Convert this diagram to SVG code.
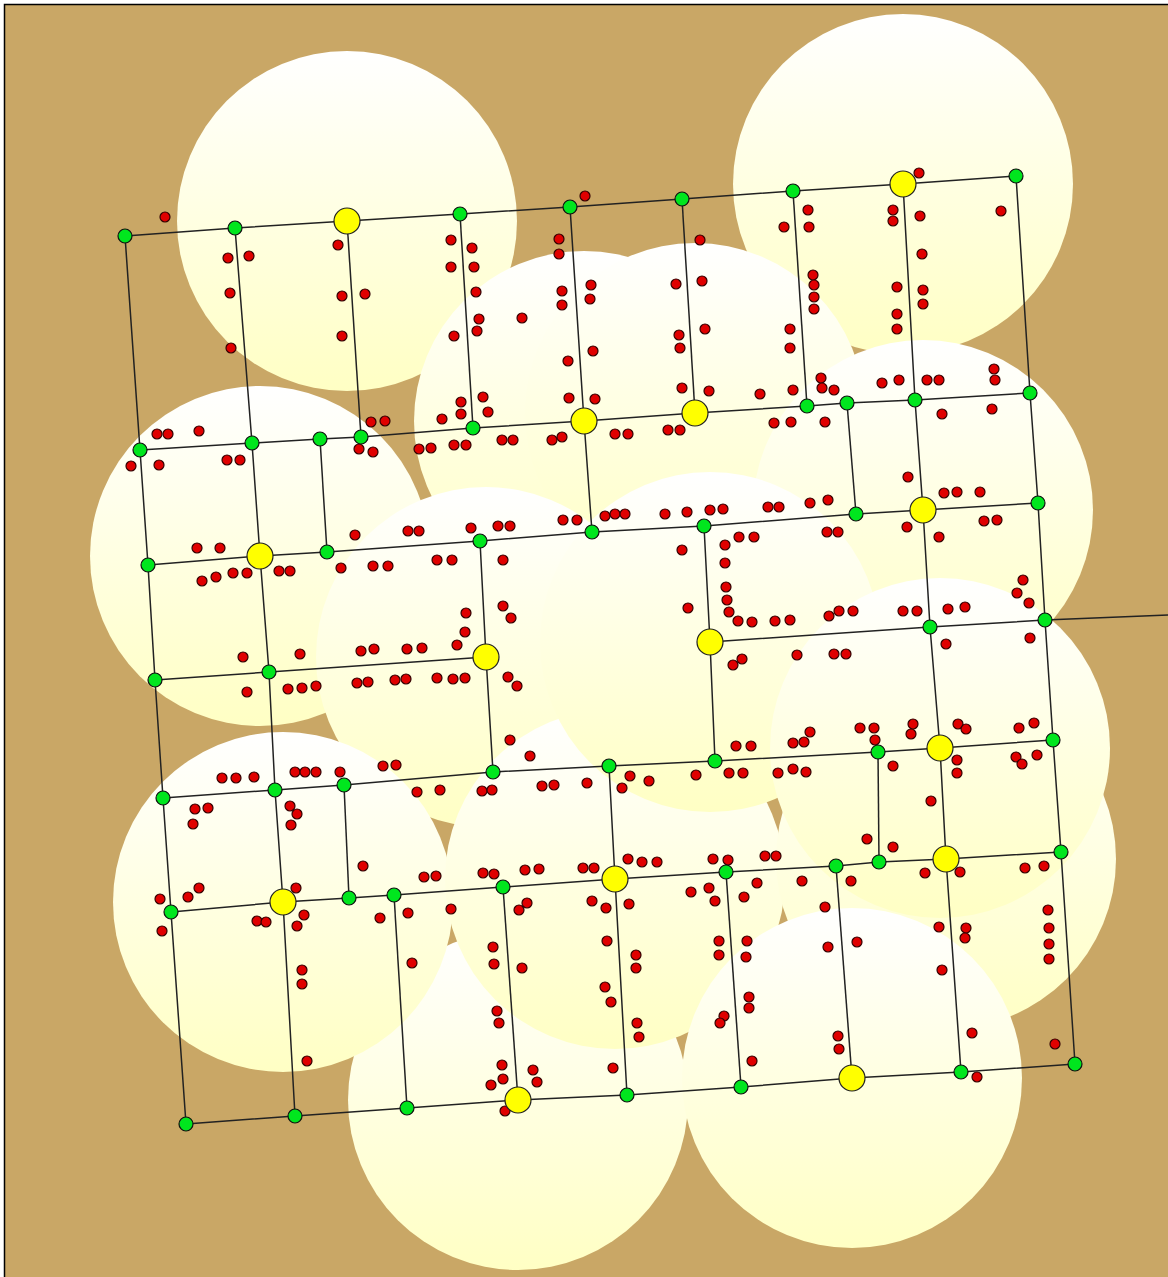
<svg xmlns="http://www.w3.org/2000/svg" width="1168" height="1277" viewBox="0 0 1168 1277">
<style>
.z{fill:url(#zg)}
.c{fill:none;stroke:#222;stroke-width:1.5}
.g{fill:#00e61e;stroke:#111;stroke-width:1.2}
.y{fill:#ffff00;stroke:#222;stroke-width:1.2}
#points circle{fill:#e00000;stroke:#300;stroke-width:1.2;r:5px}
</style>
<defs><linearGradient id="zg" x1="0" y1="0" x2="0" y2="1"><stop offset="0" stop-color="#ffffff"/><stop offset="1" stop-color="#ffffc4"/></linearGradient></defs>
<rect width="1168" height="1277" fill="#ffffff"/>
<rect x="4.5" y="4.5" width="1170" height="1280" fill="#c9a766" stroke="#000" stroke-width="1.5"/>
<g id="zones">
<circle class="z" cx="347" cy="221" r="170"/>
<circle class="z" cx="903" cy="184" r="170"/>
<circle class="z" cx="584" cy="421" r="170"/>
<circle class="z" cx="695" cy="413" r="170"/>
<circle class="z" cx="260" cy="556" r="170"/>
<circle class="z" cx="923" cy="510" r="170"/>
<circle class="z" cx="486" cy="657" r="170"/>
<circle class="z" cx="518" cy="1100" r="170"/>
<circle class="z" cx="283" cy="902" r="170"/>
<circle class="z" cx="615" cy="879" r="170"/>
<circle class="z" cx="710" cy="642" r="170"/>
<circle class="z" cx="946" cy="859" r="170"/>
<circle class="z" cx="940" cy="748" r="170"/>
<circle class="z" cx="852" cy="1078" r="170"/>
</g>
<g id="connectors">
<polyline class="c" points="125,236 235,228 347,221 460,214 570,207 682,199 793,191 903,184 1016,176"/>
<polyline class="c" points="140,450 252,443 320,439 361,437 473,428 584,421 695,413 807,406 847,403 915,400 1030,393"/>
<polyline class="c" points="148,565 260,556 327,552 480,541 592,532 704,526 856,514 923,510 1038,503"/>
<polyline class="c" points="155,680 269,672 486,657"/>
<polyline class="c" points="710,642 930,627 1045,620 1168,615"/>
<polyline class="c" points="163,798 275,790 344,785 493,772 609,766 715,761 878,752 940,748 1053,740"/>
<polyline class="c" points="171,912 283,902 349,898 394,895 503,887 615,879 726,872 836,866 879,862 946,859 1061,852"/>
<polyline class="c" points="186,1124 295,1116 407,1108 518,1100 627,1095 741,1087 852,1078 961,1072 1075,1064"/>
<polyline class="c" points="125,236 140,450 148,565 155,680 163,798 171,912 186,1124"/>
<polyline class="c" points="235,228 252,443 260,556 269,672 275,790 283,902 295,1116"/>
<polyline class="c" points="347,221 361,437"/>
<polyline class="c" points="320,439 327,552"/>
<polyline class="c" points="460,214 473,428"/>
<polyline class="c" points="570,207 584,421 592,532"/>
<polyline class="c" points="682,199 695,413"/>
<polyline class="c" points="793,191 807,406"/>
<polyline class="c" points="847,403 856,514"/>
<polyline class="c" points="903,184 915,400 923,510 930,627 940,748 946,859 961,1072"/>
<polyline class="c" points="1016,176 1030,393 1038,503 1045,620 1053,740 1061,852 1075,1064"/>
<polyline class="c" points="480,541 486,657 493,772"/>
<polyline class="c" points="704,526 710,642 715,761"/>
<polyline class="c" points="878,752 879,862"/>
<polyline class="c" points="344,785 349,898"/>
<polyline class="c" points="394,895 407,1108"/>
<polyline class="c" points="503,887 518,1100"/>
<polyline class="c" points="609,766 615,879 627,1095"/>
<polyline class="c" points="726,872 741,1087"/>
<polyline class="c" points="836,866 852,1078"/>
</g>
<g id="points">
<circle cx="165" cy="217"/><circle cx="585" cy="196"/><circle cx="919" cy="173"/>
<circle cx="228" cy="258"/><circle cx="249" cy="256"/><circle cx="230" cy="293"/><circle cx="231" cy="348"/>
<circle cx="338" cy="245"/><circle cx="342" cy="296"/><circle cx="365" cy="294"/><circle cx="342" cy="336"/>
<circle cx="451" cy="240"/><circle cx="472" cy="248"/><circle cx="451" cy="267"/><circle cx="474" cy="267"/><circle cx="476" cy="292"/><circle cx="479" cy="319"/><circle cx="477" cy="331"/><circle cx="454" cy="336"/><circle cx="522" cy="318"/>
<circle cx="559" cy="239"/><circle cx="559" cy="254"/><circle cx="562" cy="291"/><circle cx="591" cy="285"/><circle cx="562" cy="305"/><circle cx="590" cy="299"/><circle cx="568" cy="361"/><circle cx="593" cy="351"/>
<circle cx="700" cy="240"/><circle cx="676" cy="284"/><circle cx="702" cy="281"/><circle cx="679" cy="335"/><circle cx="705" cy="329"/><circle cx="680" cy="348"/><circle cx="682" cy="388"/><circle cx="709" cy="391"/>
<circle cx="808" cy="210"/><circle cx="809" cy="227"/><circle cx="784" cy="227"/><circle cx="813" cy="275"/><circle cx="814" cy="285"/><circle cx="814" cy="297"/><circle cx="814" cy="309"/><circle cx="790" cy="329"/><circle cx="790" cy="348"/>
<circle cx="893" cy="210"/><circle cx="893" cy="221"/><circle cx="920" cy="216"/><circle cx="1001" cy="211"/><circle cx="922" cy="254"/><circle cx="897" cy="287"/><circle cx="923" cy="290"/><circle cx="923" cy="304"/><circle cx="897" cy="314"/><circle cx="897" cy="329"/>
<circle cx="760" cy="394"/><circle cx="793" cy="390"/><circle cx="821" cy="378"/><circle cx="822" cy="388"/><circle cx="834" cy="390"/><circle cx="882" cy="383"/><circle cx="899" cy="380"/><circle cx="927" cy="380"/><circle cx="939" cy="380"/><circle cx="994" cy="369"/><circle cx="995" cy="380"/><circle cx="992" cy="409"/>
<circle cx="774" cy="423"/><circle cx="791" cy="422"/><circle cx="825" cy="422"/><circle cx="942" cy="414"/>
<circle cx="371" cy="422"/><circle cx="385" cy="421"/><circle cx="483" cy="397"/><circle cx="461" cy="402"/><circle cx="488" cy="412"/><circle cx="461" cy="414"/><circle cx="442" cy="419"/><circle cx="569" cy="398"/><circle cx="595" cy="399"/>
<circle cx="419" cy="449"/><circle cx="431" cy="448"/><circle cx="454" cy="445"/><circle cx="466" cy="445"/><circle cx="502" cy="440"/><circle cx="513" cy="440"/><circle cx="552" cy="440"/><circle cx="562" cy="437"/><circle cx="615" cy="434"/><circle cx="628" cy="434"/><circle cx="668" cy="430"/><circle cx="680" cy="430"/>
<circle cx="157" cy="434"/><circle cx="168" cy="434"/><circle cx="199" cy="431"/><circle cx="359" cy="449"/><circle cx="373" cy="452"/><circle cx="227" cy="460"/><circle cx="240" cy="460"/><circle cx="131" cy="466"/><circle cx="159" cy="465"/>
<circle cx="908" cy="477"/><circle cx="944" cy="493"/><circle cx="957" cy="492"/><circle cx="980" cy="492"/><circle cx="984" cy="521"/><circle cx="997" cy="520"/><circle cx="939" cy="537"/><circle cx="907" cy="527"/>
<circle cx="498" cy="526"/><circle cx="510" cy="526"/><circle cx="471" cy="528"/><circle cx="563" cy="520"/><circle cx="577" cy="520"/><circle cx="605" cy="516"/><circle cx="615" cy="514"/><circle cx="625" cy="514"/><circle cx="665" cy="514"/><circle cx="687" cy="512"/><circle cx="710" cy="510"/><circle cx="723" cy="509"/><circle cx="768" cy="507"/><circle cx="779" cy="507"/><circle cx="810" cy="503"/><circle cx="828" cy="500"/><circle cx="827" cy="532"/><circle cx="838" cy="532"/>
<circle cx="355" cy="535"/><circle cx="408" cy="531"/><circle cx="419" cy="531"/><circle cx="725" cy="545"/><circle cx="739" cy="537"/><circle cx="754" cy="537"/><circle cx="682" cy="550"/><circle cx="725" cy="563"/>
<circle cx="197" cy="548"/><circle cx="220" cy="548"/><circle cx="202" cy="581"/><circle cx="216" cy="577"/><circle cx="233" cy="573"/><circle cx="247" cy="573"/><circle cx="279" cy="571"/><circle cx="290" cy="571"/><circle cx="341" cy="568"/><circle cx="373" cy="566"/><circle cx="388" cy="566"/><circle cx="437" cy="560"/><circle cx="452" cy="560"/><circle cx="503" cy="560"/>
<circle cx="726" cy="587"/><circle cx="727" cy="600"/><circle cx="729" cy="612"/><circle cx="738" cy="621"/><circle cx="752" cy="622"/><circle cx="775" cy="621"/><circle cx="790" cy="620"/><circle cx="829" cy="616"/><circle cx="839" cy="611"/><circle cx="853" cy="611"/><circle cx="903" cy="611"/><circle cx="917" cy="611"/><circle cx="948" cy="609"/><circle cx="965" cy="607"/><circle cx="1023" cy="580"/><circle cx="1017" cy="593"/><circle cx="1029" cy="603"/><circle cx="1030" cy="638"/><circle cx="688" cy="608"/>
<circle cx="503" cy="606"/><circle cx="511" cy="618"/><circle cx="466" cy="613"/><circle cx="465" cy="632"/><circle cx="457" cy="645"/>
<circle cx="243" cy="657"/><circle cx="300" cy="654"/><circle cx="361" cy="651"/><circle cx="374" cy="649"/><circle cx="407" cy="649"/><circle cx="422" cy="648"/><circle cx="946" cy="644"/><circle cx="742" cy="659"/><circle cx="733" cy="665"/><circle cx="797" cy="655"/><circle cx="834" cy="654"/><circle cx="846" cy="654"/>
<circle cx="247" cy="692"/><circle cx="288" cy="689"/><circle cx="302" cy="688"/><circle cx="316" cy="686"/><circle cx="357" cy="683"/><circle cx="368" cy="682"/><circle cx="395" cy="680"/><circle cx="406" cy="679"/><circle cx="437" cy="678"/><circle cx="453" cy="679"/><circle cx="465" cy="678"/><circle cx="508" cy="677"/><circle cx="517" cy="686"/>
<circle cx="510" cy="740"/><circle cx="530" cy="756"/><circle cx="736" cy="746"/><circle cx="751" cy="746"/><circle cx="793" cy="743"/><circle cx="804" cy="742"/><circle cx="810" cy="732"/><circle cx="860" cy="728"/><circle cx="874" cy="728"/><circle cx="875" cy="740"/><circle cx="893" cy="766"/><circle cx="913" cy="724"/><circle cx="911" cy="734"/><circle cx="958" cy="724"/><circle cx="966" cy="729"/><circle cx="1019" cy="728"/><circle cx="1034" cy="723"/><circle cx="1016" cy="757"/><circle cx="1022" cy="764"/><circle cx="1037" cy="755"/><circle cx="957" cy="760"/><circle cx="957" cy="773"/>
<circle cx="222" cy="778"/><circle cx="236" cy="778"/><circle cx="254" cy="777"/><circle cx="295" cy="772"/><circle cx="305" cy="772"/><circle cx="316" cy="772"/><circle cx="340" cy="772"/><circle cx="383" cy="766"/><circle cx="396" cy="765"/>
<circle cx="417" cy="792"/><circle cx="440" cy="790"/><circle cx="482" cy="791"/><circle cx="492" cy="790"/><circle cx="542" cy="786"/><circle cx="554" cy="785"/><circle cx="587" cy="783"/><circle cx="622" cy="788"/><circle cx="630" cy="776"/><circle cx="649" cy="781"/><circle cx="696" cy="775"/><circle cx="729" cy="773"/><circle cx="743" cy="773"/><circle cx="778" cy="773"/><circle cx="793" cy="769"/><circle cx="806" cy="772"/>
<circle cx="290" cy="806"/><circle cx="297" cy="814"/><circle cx="291" cy="825"/><circle cx="195" cy="809"/><circle cx="208" cy="808"/><circle cx="193" cy="824"/><circle cx="931" cy="801"/>
<circle cx="867" cy="839"/><circle cx="893" cy="847"/>
<circle cx="363" cy="866"/><circle cx="424" cy="877"/><circle cx="436" cy="876"/><circle cx="483" cy="873"/><circle cx="494" cy="874"/><circle cx="525" cy="870"/><circle cx="539" cy="869"/><circle cx="583" cy="868"/><circle cx="594" cy="868"/><circle cx="628" cy="859"/><circle cx="642" cy="862"/><circle cx="657" cy="862"/><circle cx="713" cy="859"/><circle cx="728" cy="860"/><circle cx="765" cy="856"/><circle cx="776" cy="856"/>
<circle cx="925" cy="873"/><circle cx="960" cy="872"/><circle cx="1025" cy="868"/><circle cx="1044" cy="866"/><circle cx="802" cy="881"/><circle cx="851" cy="881"/><circle cx="757" cy="883"/>
<circle cx="199" cy="888"/><circle cx="188" cy="897"/><circle cx="160" cy="899"/><circle cx="296" cy="888"/><circle cx="691" cy="892"/><circle cx="709" cy="888"/><circle cx="744" cy="897"/><circle cx="715" cy="901"/><circle cx="592" cy="901"/><circle cx="606" cy="908"/><circle cx="629" cy="904"/><circle cx="527" cy="903"/><circle cx="519" cy="910"/>
<circle cx="304" cy="915"/><circle cx="297" cy="926"/><circle cx="257" cy="921"/><circle cx="266" cy="922"/><circle cx="380" cy="918"/><circle cx="408" cy="913"/><circle cx="451" cy="909"/><circle cx="825" cy="907"/><circle cx="1048" cy="910"/>
<circle cx="162" cy="931"/><circle cx="939" cy="927"/><circle cx="966" cy="928"/><circle cx="965" cy="938"/><circle cx="1049" cy="928"/><circle cx="1049" cy="944"/><circle cx="1049" cy="959"/>
<circle cx="607" cy="941"/><circle cx="636" cy="955"/><circle cx="719" cy="941"/><circle cx="747" cy="941"/><circle cx="493" cy="947"/><circle cx="857" cy="942"/><circle cx="828" cy="947"/>
<circle cx="494" cy="964"/><circle cx="522" cy="968"/><circle cx="636" cy="968"/><circle cx="719" cy="955"/><circle cx="746" cy="957"/><circle cx="412" cy="963"/><circle cx="302" cy="970"/><circle cx="302" cy="984"/><circle cx="942" cy="970"/>
<circle cx="605" cy="987"/><circle cx="611" cy="1002"/><circle cx="749" cy="997"/><circle cx="749" cy="1008"/><circle cx="497" cy="1011"/><circle cx="499" cy="1023"/><circle cx="724" cy="1016"/><circle cx="720" cy="1023"/><circle cx="637" cy="1023"/><circle cx="639" cy="1037"/>
<circle cx="972" cy="1033"/><circle cx="838" cy="1036"/><circle cx="839" cy="1049"/><circle cx="1055" cy="1044"/>
<circle cx="307" cy="1061"/><circle cx="752" cy="1061"/><circle cx="613" cy="1068"/><circle cx="502" cy="1065"/><circle cx="533" cy="1070"/><circle cx="503" cy="1079"/><circle cx="491" cy="1085"/><circle cx="537" cy="1082"/><circle cx="977" cy="1077"/><circle cx="505" cy="1111"/>
</g>
<g id="y1"><circle class="y" cx="347" cy="221" r="13"/></g>
<g id="y2"><circle class="y" cx="903" cy="184" r="13"/></g>
<g id="y3"><circle class="y" cx="584" cy="421" r="13"/></g>
<g id="y4"><circle class="y" cx="695" cy="413" r="13"/></g>
<g id="y5"><circle class="y" cx="260" cy="556" r="13"/></g>
<g id="y6"><circle class="y" cx="923" cy="510" r="13"/></g>
<g id="y7"><circle class="y" cx="486" cy="657" r="13"/></g>
<g id="y8"><circle class="y" cx="710" cy="642" r="13"/></g>
<g id="y9"><circle class="y" cx="940" cy="748" r="13"/></g>
<g id="y10"><circle class="y" cx="946" cy="859" r="13"/></g>
<g id="y11"><circle class="y" cx="283" cy="902" r="13"/></g>
<g id="y12"><circle class="y" cx="615" cy="879" r="13"/></g>
<g id="y13"><circle class="y" cx="518" cy="1100" r="13"/></g>
<g id="y14"><circle class="y" cx="852" cy="1078" r="13"/></g>
<g id="g1"><circle class="g" cx="125" cy="236" r="7"/></g>
<g id="g2"><circle class="g" cx="235" cy="228" r="7"/></g>
<g id="g3"><circle class="g" cx="460" cy="214" r="7"/></g>
<g id="g4"><circle class="g" cx="570" cy="207" r="7"/></g>
<g id="g5"><circle class="g" cx="682" cy="199" r="7"/></g>
<g id="g6"><circle class="g" cx="793" cy="191" r="7"/></g>
<g id="g7"><circle class="g" cx="1016" cy="176" r="7"/></g>
<g id="g8"><circle class="g" cx="140" cy="450" r="7"/></g>
<g id="g9"><circle class="g" cx="252" cy="443" r="7"/></g>
<g id="g10"><circle class="g" cx="320" cy="439" r="7"/></g>
<g id="g11"><circle class="g" cx="361" cy="437" r="7"/></g>
<g id="g12"><circle class="g" cx="473" cy="428" r="7"/></g>
<g id="g13"><circle class="g" cx="807" cy="406" r="7"/></g>
<g id="g14"><circle class="g" cx="847" cy="403" r="7"/></g>
<g id="g15"><circle class="g" cx="915" cy="400" r="7"/></g>
<g id="g16"><circle class="g" cx="1030" cy="393" r="7"/></g>
<g id="g17"><circle class="g" cx="148" cy="565" r="7"/></g>
<g id="g18"><circle class="g" cx="327" cy="552" r="7"/></g>
<g id="g19"><circle class="g" cx="480" cy="541" r="7"/></g>
<g id="g20"><circle class="g" cx="592" cy="532" r="7"/></g>
<g id="g21"><circle class="g" cx="704" cy="526" r="7"/></g>
<g id="g22"><circle class="g" cx="856" cy="514" r="7"/></g>
<g id="g23"><circle class="g" cx="1038" cy="503" r="7"/></g>
<g id="g24"><circle class="g" cx="155" cy="680" r="7"/></g>
<g id="g25"><circle class="g" cx="269" cy="672" r="7"/></g>
<g id="g26"><circle class="g" cx="930" cy="627" r="7"/></g>
<g id="g27"><circle class="g" cx="1045" cy="620" r="7"/></g>
<g id="g28"><circle class="g" cx="163" cy="798" r="7"/></g>
<g id="g29"><circle class="g" cx="275" cy="790" r="7"/></g>
<g id="g30"><circle class="g" cx="344" cy="785" r="7"/></g>
<g id="g31"><circle class="g" cx="493" cy="772" r="7"/></g>
<g id="g32"><circle class="g" cx="609" cy="766" r="7"/></g>
<g id="g33"><circle class="g" cx="715" cy="761" r="7"/></g>
<g id="g34"><circle class="g" cx="878" cy="752" r="7"/></g>
<g id="g35"><circle class="g" cx="1053" cy="740" r="7"/></g>
<g id="g36"><circle class="g" cx="171" cy="912" r="7"/></g>
<g id="g37"><circle class="g" cx="349" cy="898" r="7"/></g>
<g id="g38"><circle class="g" cx="394" cy="895" r="7"/></g>
<g id="g39"><circle class="g" cx="503" cy="887" r="7"/></g>
<g id="g40"><circle class="g" cx="726" cy="872" r="7"/></g>
<g id="g41"><circle class="g" cx="836" cy="866" r="7"/></g>
<g id="g42"><circle class="g" cx="879" cy="862" r="7"/></g>
<g id="g43"><circle class="g" cx="1061" cy="852" r="7"/></g>
<g id="g44"><circle class="g" cx="186" cy="1124" r="7"/></g>
<g id="g45"><circle class="g" cx="295" cy="1116" r="7"/></g>
<g id="g46"><circle class="g" cx="407" cy="1108" r="7"/></g>
<g id="g47"><circle class="g" cx="627" cy="1095" r="7"/></g>
<g id="g48"><circle class="g" cx="741" cy="1087" r="7"/></g>
<g id="g49"><circle class="g" cx="961" cy="1072" r="7"/></g>
<g id="g50"><circle class="g" cx="1075" cy="1064" r="7"/></g>
</svg>
